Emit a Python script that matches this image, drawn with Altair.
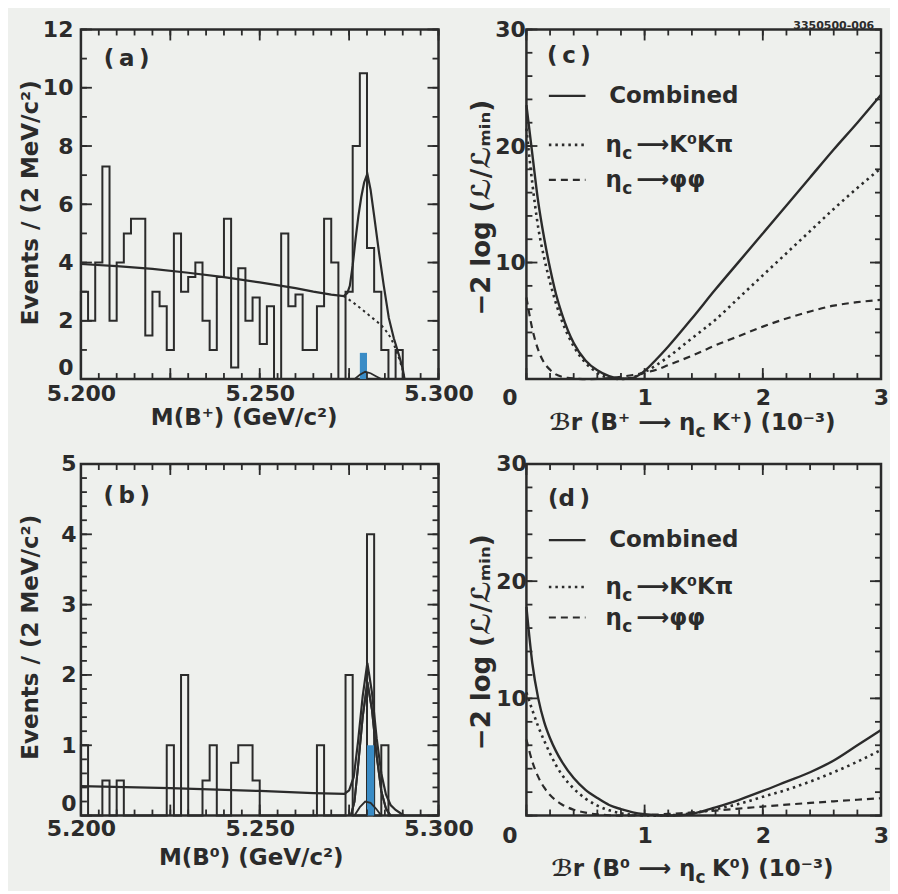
import altair as alt
import pandas as pd

FONT = "DejaVu Sans"
INK = "#2b2b2b"
BG = "#eef0ed"
BLUE = "#3a8cc6"

# ---------------- data ----------------
BIN_LO = 5.200
BIN_W = 0.002

# Panel (a): Events per 2 MeV, 50 bins from 5.200 to 5.300
a_counts = [3, 2, 4, 7.3, 2, 4, 5, 5.5, 5.5, 1.5,
            3, 2.5, 1, 5, 3, 3.5, 4, 2, 1, 3.5,
            5.5, 0.4, 3.8, 2, 2.8, 1.2, 2.5, 0, 5, 2.5,
            2.9, 1, 1, 2.5, 5.5, 4, 0, 3, 8, 10.5,
            4.5, 3, 1, 0, 1, 0, 0, 0, 0, 0]
# Panel (b)
b_counts = [1, 0, 0, 0.5, 0, 0.5, 0, 0, 0, 0,
            0, 0, 1, 0, 2, 0, 0, 0.5, 1, 0,
            0, 0.75, 1, 1, 0.5, 0, 0, 0, 0, 0,
            0, 0, 0, 1, 0, 0, 0, 2, 0, 0,
            4, 0, 1, 0, 0, 0, 0, 0, 0, 0]

# filled (blue) bins
a_blue_lo, a_blue_hi, a_blue_h = [5.278], [5.280], [0.9]
b_blue_lo, b_blue_hi, b_blue_h = [5.280], [5.282], [1.0]

# fit curves (a)
a_fit_m = [5.200, 5.210, 5.220, 5.230, 5.240, 5.250, 5.260, 5.265, 5.270, 5.2735,
           5.2745, 5.2752, 5.2760, 5.2768, 5.2776, 5.2784, 5.2792, 5.2801, 5.2810,
           5.2820, 5.2833, 5.2847, 5.2861, 5.2875, 5.2890, 5.2900, 5.2905]
a_fit_v = [3.95, 3.88, 3.78, 3.65, 3.50, 3.32, 3.12, 3.00, 2.90, 2.85,
           2.95, 3.20, 3.90, 4.80, 5.60, 6.25, 6.75, 7.05, 6.50,
           5.60, 4.40, 3.20, 2.10, 1.40, 0.80, 0.35, 0.0]
a_bkg_m = [5.2735, 5.2760, 5.2780, 5.2800, 5.2820, 5.2840, 5.2860, 5.2875, 5.2890, 5.2900, 5.2905]
a_bkg_v = [2.85, 2.64, 2.45, 2.25, 2.05, 1.85, 1.55, 1.20, 0.70, 0.30, 0.0]
a_peak_m = [5.2765, 5.2780, 5.2795, 5.2810, 5.2825, 5.2840]
a_peak_v = [0.0, 0.15, 0.25, 0.20, 0.10, 0.0]

# fit curves (b)
b_fit_m = [5.200, 5.225, 5.250, 5.265, 5.2737, 5.2750, 5.2763, 5.2775, 5.2788, 5.2801,
           5.2814, 5.2827, 5.2840, 5.2853, 5.2866, 5.2880, 5.2895, 5.2905]
b_fit_v = [0.42, 0.39, 0.35, 0.32, 0.31, 0.36, 0.55, 1.05, 1.70, 2.17,
           1.75, 1.10, 0.60, 0.30, 0.15, 0.08, 0.03, 0.0]
b_sig_m = [5.2755, 5.2765, 5.2775, 5.2788, 5.2801, 5.2814, 5.2827, 5.2840, 5.2853, 5.2866]
b_sig_v = [0.0, 0.2, 0.7, 1.4, 1.9, 1.5, 0.85, 0.35, 0.1, 0.0]
b_peak_m = [5.2765, 5.2780, 5.2795, 5.2810, 5.2825, 5.2840]
b_peak_v = [0.0, 0.12, 0.20, 0.18, 0.10, 0.0]

# likelihood scans (c)
c_br = [0, 0.05, 0.1, 0.15, 0.2, 0.25, 0.3, 0.35, 0.4, 0.5, 0.6, 0.7, 0.8, 0.9,
        1.0, 1.1, 1.2, 1.4, 1.6, 1.8, 2.0, 2.2, 2.4, 2.6, 2.8, 3.0]
c_comb = [23.5, 19.3, 15.2, 12.1, 9.5, 7.3, 5.6, 4.2, 3.1, 1.6, 0.75, 0.25, 0.03, 0.1,
          0.7, 1.7, 2.8, 5.2, 7.7, 10.1, 12.5, 14.9, 17.3, 19.7, 22.0, 24.4]
c_kkpi = [21.5, 16.8, 13.0, 10.4, 8.3, 6.5, 5.0, 3.8, 2.8, 1.4, 0.55, 0.1, 0.0, 0.15,
          0.6, 1.2, 1.9, 3.5, 5.1, 7.0, 8.9, 10.8, 12.7, 14.6, 16.4, 18.1]
c_phph = [7.0, 4.3, 2.5, 1.4, 0.8, 0.4, 0.2, 0.1, 0.05, 0.0, 0.02, 0.08, 0.2, 0.35,
          0.55, 0.8, 1.2, 2.0, 2.9, 3.7, 4.5, 5.2, 5.8, 6.3, 6.6, 6.8]

# likelihood scans (d)
d_br = [0, 0.05, 0.1, 0.15, 0.2, 0.25, 0.3, 0.4, 0.5, 0.6, 0.7, 0.8, 0.9, 1.0, 1.1,
        1.2, 1.3, 1.4, 1.5, 1.6, 1.8, 2.0, 2.2, 2.4, 2.6, 2.8, 3.0]
d_comb = [17.8, 13.0, 10.0, 8.0, 6.6, 5.5, 4.6, 3.2, 2.2, 1.5, 0.9, 0.55, 0.28, 0.12, 0.03,
          0.0, 0.03, 0.15, 0.4, 0.7, 1.35, 2.1, 2.9, 3.7, 4.7, 6.0, 7.3]
d_kkpi = [10.5, 9.0, 7.6, 6.4, 5.3, 4.3, 3.5, 2.3, 1.45, 0.85, 0.45, 0.2, 0.07, 0.01, 0.0,
          0.02, 0.08, 0.2, 0.35, 0.55, 1.0, 1.6, 2.2, 2.9, 3.7, 4.6, 5.6]
d_phph = [6.5, 4.6, 3.3, 2.4, 1.75, 1.3, 0.95, 0.5, 0.25, 0.1, 0.03, 0.0, 0.01, 0.04, 0.08,
          0.14, 0.2, 0.27, 0.35, 0.43, 0.6, 0.77, 0.93, 1.08, 1.22, 1.35, 1.48]

# tick positions on the frames
mass_major = [5.200, 5.225, 5.250, 5.275, 5.300]
mass_minor = [round(5.200 + 0.005 * k, 3) for k in range(21)]
a_ymajor, a_yminor = list(range(0, 13, 2)), list(range(0, 13))
b_ymajor, b_yminor = list(range(0, 6)), [round(0.2 * k, 1) for k in range(26)]
br_major, br_minor = [0, 1, 2, 3], [round(0.2 * k, 1) for k in range(16)]
ll_major, ll_minor = [0, 10, 20, 30], list(range(0, 31, 2))

# ---------------- helpers ----------------
W_L, W_R = 358, 355
H_T, H_B = 350, 352
MAJ, MIN = 11, 6


def hist_df(counts):
    xs, ys = [BIN_LO], [0]
    for i, c in enumerate(counts):
        xs.append(round(BIN_LO + BIN_W * i, 4))
        ys.append(c)
    xs.append(round(BIN_LO + BIN_W * len(counts), 4))
    ys.append(counts[-1])
    return pd.DataFrame({"x": xs, "y": ys, "i": list(range(len(xs)))})


def curve_df(xv, yv):
    return pd.DataFrame({"x": xv, "y": yv, "i": list(range(len(xv)))})


def label_axis(orient, values, pad, fmt, title=None, **extra):
    kw = dict(orient=orient, values=values, tickSize=0, ticks=False,
              domain=False, grid=False, labels=True, format=fmt,
              labelFont=FONT, labelFontSize=22, labelFontWeight="bold",
              labelColor=INK, labelPadding=pad, labelFlush=False, labelOverlap=False,
              title=title)
    if title is not None:
        kw.update(titleFont=FONT, titleFontSize=23, titleFontWeight="bold",
                  titleColor=INK)
    kw.update(extra)
    return alt.Axis(**kw)


def enc_x(field, xs, axis=None):
    # axis left unspecified on secondary layers so the shared axis keeps the main layer's settings
    if axis is None:
        return alt.X(field, scale=xs)
    return alt.X(field, scale=xs, axis=axis)


def enc_y(field, ys, axis=None):
    if axis is None:
        return alt.Y(field, scale=ys)
    return alt.Y(field, scale=ys, axis=axis)


def tick_rows(xdom, ydom, xmaj, xmin, ymaj, ymin, w, h):
    ux = (xdom[1] - xdom[0]) / w   # data units per pixel
    uy = (ydom[1] - ydom[0]) / h
    rows = []
    for vals, size in ((xmaj, MAJ), (xmin, MIN)):
        for v in vals:
            for a0, a1 in ((ydom[0], ydom[0] + size * uy), (ydom[1], ydom[1] - size * uy)):
                rows.append({"x": v, "y": a0, "x2": v, "y2": a1})
    for vals, size in ((ymaj, MAJ), (ymin, MIN)):
        for v in vals:
            for a0, a1 in ((xdom[0], xdom[0] + size * ux), (xdom[1], xdom[1] - size * ux)):
                rows.append({"x": a0, "y": v, "x2": a1, "y2": v})
    return pd.DataFrame(rows)


def frame_ticks(xs, ys, df):
    """Inward frame ticks (segments from (x,y) to (x2,y2)) through the panel scales."""
    return alt.Chart(df).mark_rule(color=INK, strokeWidth=1.8).encode(
        x=enc_x("x:Q", xs), x2="x2:Q",
        y=enc_y("y:Q", ys), y2="y2:Q")


def line(df, xs, ys, xaxis=None, yaxis=None, dash=None, width=2.2, interp="linear", color=INK):
    mk = dict(color=color, strokeWidth=width, interpolate=interp)
    if dash:
        mk["strokeDash"] = dash
    return alt.Chart(df).mark_line(**mk).encode(
        x=enc_x("x:Q", xs, xaxis),
        y=enc_y("y:Q", ys, yaxis),
        order=alt.Order("i:Q"))


def text(xv, yv, t, xs, ys, size=23, align="left", dy=0, baseline="middle"):
    df = pd.DataFrame({"x": xv, "y": yv, "t": t})
    return alt.Chart(df).mark_text(font=FONT, fontSize=size, fontWeight="bold", color=INK,
                                   align=align, baseline=baseline, dy=dy).encode(
        x=enc_x("x:Q", xs),
        y=enc_y("y:Q", ys),
        text="t:N")


zero_up = {"condition": {"test": "datum.value === 0", "value": "bottom"}, "value": "middle"}
zero_left = {"condition": {"test": "datum.value === 0", "value": -17}, "value": 0}


def mass_panel(counts, blue, fit, bkg, sig, peak, ymax, ymajor, yminor, ylabpad, xlabpad,
               xtitle, xtitle_x, xtitle_y, ytitle_y, tag, tag_y, height):
    xdom, ydom = [5.2, 5.3], [0, ymax]
    xs = alt.Scale(domain=xdom, nice=False, zero=False)
    ys = alt.Scale(domain=ydom, nice=False)
    tdf = tick_rows(xdom, ydom, mass_major, mass_minor, ymajor, yminor, W_L, height)
    blo, bhi, bh = blue
    bdf = pd.DataFrame({"x": blo, "x2": bhi, "y": bh, "y2": [0] * len(blo)})
    blue_layer = alt.Chart(bdf).mark_rect(color=BLUE).encode(
        x=enc_x("x:Q", xs), x2="x2:Q",
        y=enc_y("y:Q", ys), y2="y2:Q")
    hist = line(hist_df(counts), xs, ys,
                xaxis=label_axis("bottom", [5.2, 5.25, 5.3], xlabpad, ".3f",
                                 title=xtitle, titleX=xtitle_x, titleY=xtitle_y,
                                 titleAlign="center", titleBaseline="middle"),
                yaxis=label_axis("left", ymajor, ylabpad, "d",
                                 title="Events / (2 MeV/c²)", titleX=-50, titleY=ytitle_y,
                                 titleAngle=270, titleAlign="center", titleBaseline="middle",
                                 labelBaseline=zero_up),
                interp="step-after", width=2.0)
    layers = [hist, blue_layer]
    layers.append(line(curve_df(*fit), xs, ys, width=2.2))
    layers.append(line(curve_df(*bkg), xs, ys,
                       dash=[2.5, 3.5] if sig is None else None, width=2.0))
    if sig is not None:
        layers.append(line(curve_df(*sig), xs, ys, width=2.0))
    layers.append(line(curve_df(*peak), xs, ys, width=1.8))
    layers.append(text([5.2128], [tag_y], [tag], xs, ys, align="center"))
    layers.append(frame_ticks(xs, ys, tdf))
    return alt.layer(*layers).properties(width=W_L, height=height)


def scan_panel(br, comb, kkpi, phph, height, tag, tag_y, leg_y, sup, xt_y,
               ylabpad, xlabpad, ytitle_y, extra=None):
    xdom, ydom = [0, 3], [0, 30]
    xs = alt.Scale(domain=xdom, nice=False, zero=False)
    ys = alt.Scale(domain=ydom, nice=False)
    tdf = tick_rows(xdom, ydom, br_major, br_minor, ll_major, ll_minor, W_R, height)
    layers = []
    layers.append(line(curve_df(br, comb), xs, ys,
                       xaxis=label_axis("bottom", [0, 1, 2, 3], xlabpad, "d",
                                        labelOffset=zero_left),
                       yaxis=label_axis("left", [10, 20, 30], ylabpad, "d",
                                        title="−2 log (ℒ/ℒₘᵢₙ)", titleX=-45, titleY=ytitle_y,
                                        titleAngle=270, titleAlign="center",
                                        titleBaseline="middle", titleFontSize=26),
                       interp="monotone", width=2.4))
    layers.append(line(curve_df(br, kkpi), xs, ys, dash=[2.5, 4], interp="monotone", width=2.6))
    layers.append(line(curve_df(br, phph), xs, ys, dash=[7, 5], interp="monotone", width=2.2))
    layers.append(line(curve_df([0.19, 0.50], [leg_y[0], leg_y[0]]), xs, ys, width=2.4))
    layers.append(line(curve_df([0.19, 0.50], [leg_y[1], leg_y[1]]), xs, ys,
                       dash=[2.5, 4], width=2.6))
    layers.append(line(curve_df([0.19, 0.50], [leg_y[2], leg_y[2]]), xs, ys,
                       dash=[7, 5], width=2.2))
    layers.append(text([0.70], [leg_y[0]], ["Combined"], xs, ys))
    layers.append(text([0.67, 0.67], [leg_y[1], leg_y[2]], ["η", "η"], xs, ys))
    layers.append(text([0.81, 0.81], [leg_y[1], leg_y[2]], ["c", "c"], xs, ys, size=17, dy=9))
    layers.append(text([0.93, 0.93], [leg_y[1], leg_y[2]], ["⟶K⁰Kπ", "⟶φφ"], xs, ys))
    layers.append(text([0.36], [tag_y], [tag], xs, ys, align="center"))
    # x title built from pieces (subscript c)
    layers.append(text([1.43], [xt_y], ["ℬr (B" + sup + " ⟶ η"], xs, ys, align="right"))
    layers.append(text([1.43], [xt_y], ["c"], xs, ys, size=17, dy=9))
    layers.append(text([1.57], [xt_y], ["K" + sup + ") (10⁻³)"], xs, ys))
    if extra is not None:
        layers.append(text(*extra, xs, ys, size=11, align="center"))
    layers.append(frame_ticks(xs, ys, tdf))
    return alt.layer(*layers).properties(width=W_R, height=height)


pa = mass_panel(a_counts, (a_blue_lo, a_blue_hi, a_blue_h), (a_fit_m, a_fit_v),
                (a_bkg_m, a_bkg_v), None, (a_peak_m, a_peak_v),
                12, a_ymajor, a_yminor, 8, 4,
                "M(B⁺) (GeV/c²)", 163, 38, 173, "(\u2009a\u2009)", 11.0, H_T)
pb = mass_panel(b_counts, (b_blue_lo, b_blue_hi, b_blue_h), (b_fit_m, b_fit_v),
                (b_sig_m, b_sig_v), (b_sig_m, b_sig_v), (b_peak_m, b_peak_v),
                5, b_ymajor, b_yminor, 5, 3,
                "M(B⁰) (GeV/c²)", 170, 42, 173, "(\u2009b\u2009)", 4.54, H_B)
pc = scan_panel(c_br, c_comb, c_kkpi, c_phph, H_T, "(\u2009c\u2009)", 27.7,
                [24.3, 20.1, 17.1], "⁺", -3.77, 1, 8, 178,
                extra=([2.6], [30.3], ["3350500-006"]))
pd_ = scan_panel(d_br, d_comb, d_kkpi, d_phph, H_B, "(d\u2009)", 27.0,
                 [23.5, 19.5, 16.9], "⁰", -4.6, 0, 10, 178)

chart = alt.concat(pa, pc, pb, pd_, columns=2, spacing={"row": 85, "column": 88},
                   bounds="flush").properties(
    background=BG,
    padding={"left": 10, "top": 8, "right": 0, "bottom": 2},
).configure_view(stroke=INK, strokeWidth=2.5)

chart.save("out.html", embed_options={"renderer": "svg", "actions": False})
